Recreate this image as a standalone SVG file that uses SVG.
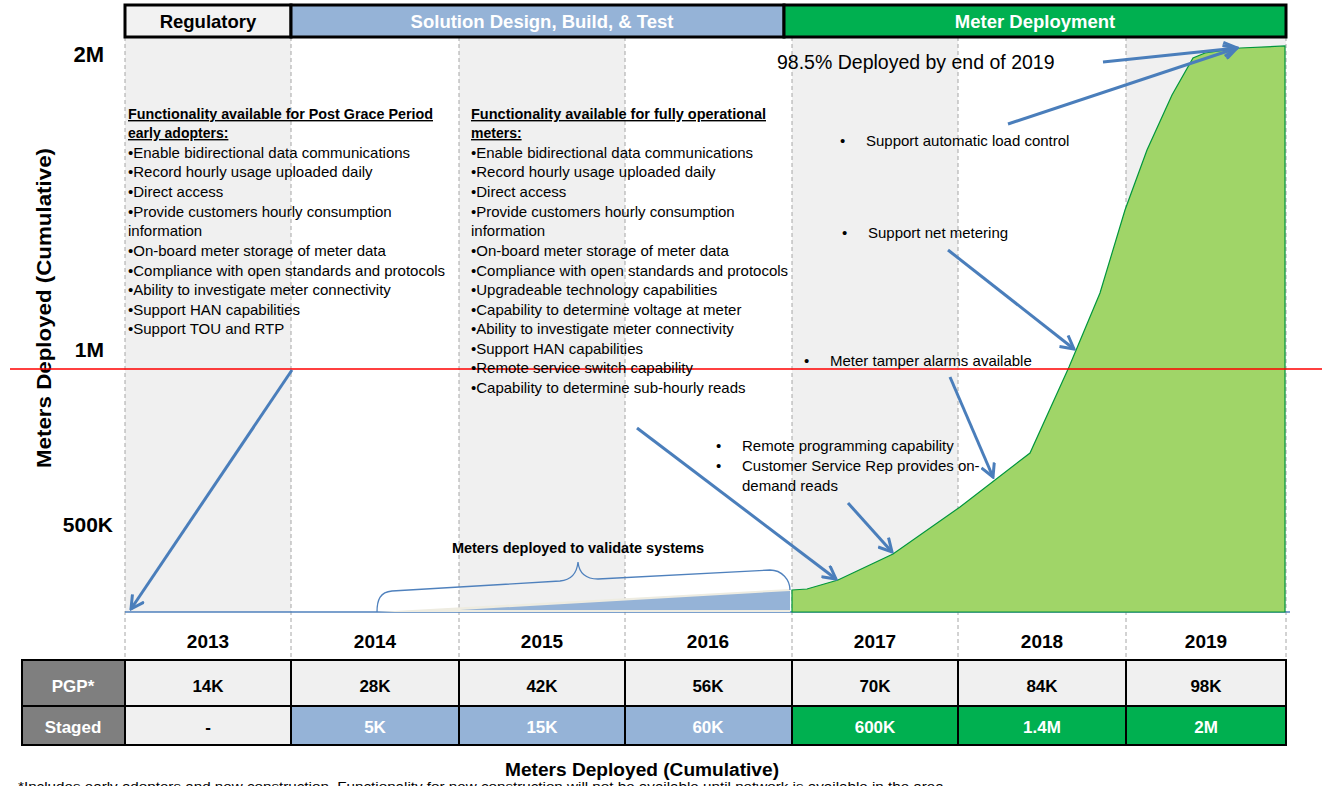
<svg xmlns="http://www.w3.org/2000/svg" width="1322" height="786" viewBox="0 0 1322 786">
<defs>
<style>
.t{font-family:"Liberation Sans",Arial,sans-serif;fill:#000}
.b{font-weight:bold}
.hd{font-family:"Liberation Sans",Arial,sans-serif;font-weight:bold;font-size:18.5px;text-anchor:middle}
.body{font-family:"Liberation Sans",Arial,sans-serif;font-size:15px;fill:#000}
.yr{font-family:"Liberation Sans",Arial,sans-serif;font-weight:bold;font-size:19px;text-anchor:middle;fill:#000}
.cell{font-family:"Liberation Sans",Arial,sans-serif;font-weight:bold;font-size:17px;text-anchor:middle}
.grid{stroke:#a6a6a6;stroke-width:1;stroke-dasharray:4,3}
.shade{fill:#f0f0f0}
.arr{stroke:#4a7ebb;stroke-width:3;fill:none;marker-end:url(#ah)}
.tb{stroke:#000;stroke-width:2}
</style>
<marker id="ah" viewBox="0 0 16 16" refX="14" refY="8" markerWidth="16" markerHeight="16" markerUnits="userSpaceOnUse" orient="auto">
<path d="M1,1 L14,8 L1,15" fill="none" stroke="#4a7ebb" stroke-width="3"/>
</marker>
</defs>
<rect width="1322" height="786" fill="#fff"/>

<!-- column shading -->
<g id="shading">
<rect class="shade" x="125" y="37" width="166" height="575"/>
<rect class="shade" x="459" y="37" width="166" height="575"/>
<rect class="shade" x="792" y="37" width="166" height="575"/>
<rect class="shade" x="1126" y="37" width="160" height="575"/>
</g>
<g id="gridlines">
<line class="grid" x1="125" y1="37" x2="125" y2="660"/>
<line class="grid" x1="291" y1="37" x2="291" y2="660"/>
<line class="grid" x1="459" y1="37" x2="459" y2="660"/>
<line class="grid" x1="625" y1="37" x2="625" y2="660"/>
<line class="grid" x1="792" y1="37" x2="792" y2="660"/>
<line class="grid" x1="958" y1="37" x2="958" y2="660"/>
<line class="grid" x1="1126" y1="37" x2="1126" y2="660"/>
<line class="grid" x1="1286" y1="37" x2="1286" y2="660"/>
</g>

<!-- header -->
<g id="phase-regulatory">
<rect x="125" y="5" width="166" height="32" fill="#f2f2f2" stroke="#000" stroke-width="3"/>
<text class="hd" x="208" y="28" fill="#000">Regulatory</text>
</g>
<g id="phase-solution">
<rect x="291" y="5" width="493" height="32" fill="#95b3d7" stroke="#000" stroke-width="3"/>
<text class="hd" x="542" y="28" fill="#fff">Solution Design, Build, &amp; Test</text>
</g>
<g id="phase-deploy">
<rect x="784" y="5" width="502" height="32" fill="#00b050" stroke="#000" stroke-width="3"/>
<text class="hd" x="1035" y="28" fill="#fff">Meter Deployment</text>
</g>

<!-- axis labels -->
<g id="yaxis">
<text class="t b" x="104" y="62" font-size="22" text-anchor="end">2M</text>
<text class="t b" x="104" y="357" font-size="21" text-anchor="end">1M</text>
<text class="t b" x="113" y="532" font-size="21" text-anchor="end">500K</text>
<text class="t b" font-size="21" text-anchor="middle" textLength="320" lengthAdjust="spacingAndGlyphs" transform="translate(51,308) rotate(-90)">Meters Deployed (Cumulative)</text>
</g>

<!-- chart -->
<g id="chart">
<line x1="125" y1="612" x2="1290" y2="612" stroke="#4f81bd" stroke-width="1.5"/>
<polygon points="377,612 790,589 790,612" fill="#eeece1"/>
<polygon points="460,610 790,591 790,610" fill="#95b3d7"/>
<path d="M792,590 L807,589 L838,580 L893,554 L960,507 L1030,453 L1069,367 L1100,293 L1125,210 L1147,150 L1172,95 L1193,58 L1205,53 L1240,48 L1285,46 L1285,612 L792,612 Z" fill="#a0d568" stroke="#00963c" stroke-width="1.2"/>
<path d="M377,612 C377,600 380,592 392,591 L560,581 C572,580 577,572 578,562 C579,572 584,579 598,579 L770,570 C782,570 790,580 790,590" fill="none" stroke="#4f81bd" stroke-width="1.3"/>
<text class="t b" x="578" y="553" font-size="14.5" text-anchor="middle">Meters deployed to validate systems</text>
</g>

<!-- red reference line -->
<line x1="10" y1="369" x2="1322" y2="369" stroke="#ff0000" stroke-width="1.5"/>

<!-- left text block -->
<g id="block-pgp" class="body">
<text x="128" y="119" font-weight="bold" font-size="14" text-decoration="underline" textLength="305" lengthAdjust="spacingAndGlyphs">Functionality available for Post Grace Period</text>
<text x="128" y="138" font-weight="bold" font-size="14" text-decoration="underline">early adopters:</text>
<text x="128" y="158">•Enable bidirectional data communications</text>
<text x="128" y="177">•Record hourly usage uploaded daily</text>
<text x="128" y="197">•Direct access</text>
<text x="128" y="217">•Provide customers hourly consumption</text>
<text x="128" y="236">information</text>
<text x="128" y="256">•On-board meter storage of meter data</text>
<text x="128" y="276">•Compliance with open standards and protocols</text>
<text x="128" y="295">•Ability to investigate meter connectivity</text>
<text x="128" y="315">•Support HAN capabilities</text>
<text x="128" y="334">•Support TOU and RTP</text>
</g>

<!-- middle text block -->
<g id="block-full" class="body">
<text x="471" y="119" font-weight="bold" font-size="14" text-decoration="underline" textLength="295" lengthAdjust="spacingAndGlyphs">Functionality available for fully operational</text>
<text x="471" y="138" font-weight="bold" font-size="14" text-decoration="underline">meters:</text>
<text x="471" y="158">•Enable bidirectional data communications</text>
<text x="471" y="177">•Record hourly usage uploaded daily</text>
<text x="471" y="197">•Direct access</text>
<text x="471" y="217">•Provide customers hourly consumption</text>
<text x="471" y="236">information</text>
<text x="471" y="256">•On-board meter storage of meter data</text>
<text x="471" y="276">•Compliance with open standards and protocols</text>
<text x="471" y="295">•Upgradeable technology capabilities</text>
<text x="471" y="315">•Capability to determine voltage at meter</text>
<text x="471" y="334">•Ability to investigate meter connectivity</text>
<text x="471" y="354">•Support HAN capabilities</text>
<text x="471" y="373">•Remote service switch capability</text>
<text x="471" y="393">•Capability to determine sub-hourly reads</text>
</g>

<!-- right annotations -->
<g id="annotations" class="body">
<text x="777" y="69" font-size="19.5">98.5% Deployed by end of 2019</text>
<text x="840" y="146">•</text><text x="866" y="146">Support automatic load control</text>
<text x="842" y="238">•</text><text x="868" y="238">Support net metering</text>
<text x="804" y="366">•</text><text x="830" y="366">Meter tamper alarms available</text>
<text x="716" y="451">•</text><text x="742" y="451">Remote programming capability</text>
<text x="716" y="471">•</text><text x="742" y="471">Customer Service Rep provides on-</text>
<text x="742" y="491">demand reads</text>
</g>

<!-- connectors -->
<g id="connectors">
<line class="arr" x1="292" y1="370" x2="131" y2="609"/>
<line class="arr" x1="637" y1="428" x2="836" y2="579"/>
<line class="arr" x1="848" y1="503" x2="892" y2="552"/>
<line class="arr" x1="950" y1="377" x2="993" y2="477"/>
<line class="arr" x1="948" y1="250" x2="1074" y2="349"/>
<line class="arr" x1="1008" y1="124" x2="1237" y2="48"/>
<line class="arr" x1="1103" y1="62" x2="1237" y2="48"/>
</g>

<!-- years -->
<g id="years">
<text class="yr" x="208" y="648">2013</text>
<text class="yr" x="375" y="648">2014</text>
<text class="yr" x="542" y="648">2015</text>
<text class="yr" x="708" y="648">2016</text>
<text class="yr" x="875" y="648">2017</text>
<text class="yr" x="1042" y="648">2018</text>
<text class="yr" x="1206" y="648">2019</text>
</g>

<!-- table -->
<g id="table">
<rect x="22" y="660" width="103" height="85" fill="#7f7f7f"/>
<rect x="125" y="660" width="1161" height="46" fill="#f0f0f0"/>
<rect x="125" y="706" width="166" height="39" fill="#f0f0f0"/>
<rect x="291" y="706" width="501" height="39" fill="#95b3d7"/>
<rect x="792" y="706" width="494" height="39" fill="#00b050"/>
<g class="tb">
<line x1="22" y1="660" x2="1286" y2="660"/>
<line x1="22" y1="706" x2="1286" y2="706"/>
<line x1="22" y1="745" x2="1286" y2="745"/>
<line x1="22" y1="659" x2="22" y2="746"/>
<line x1="125" y1="659" x2="125" y2="746"/>
<line x1="291" y1="659" x2="291" y2="746"/>
<line x1="459" y1="659" x2="459" y2="746"/>
<line x1="625" y1="659" x2="625" y2="746"/>
<line x1="792" y1="659" x2="792" y2="746"/>
<line x1="958" y1="659" x2="958" y2="746"/>
<line x1="1126" y1="659" x2="1126" y2="746"/>
<line x1="1286" y1="659" x2="1286" y2="746"/>
</g>
<text class="cell" x="73" y="692" fill="#fff">PGP*</text>
<text class="cell" x="73" y="733" fill="#fff">Staged</text>
<text class="cell" x="208" y="692" fill="#000">14K</text>
<text class="cell" x="375" y="692" fill="#000">28K</text>
<text class="cell" x="542" y="692" fill="#000">42K</text>
<text class="cell" x="708" y="692" fill="#000">56K</text>
<text class="cell" x="875" y="692" fill="#000">70K</text>
<text class="cell" x="1042" y="692" fill="#000">84K</text>
<text class="cell" x="1206" y="692" fill="#000">98K</text>
<text class="cell" x="208" y="733" fill="#000">-</text>
<text class="cell" x="375" y="733" fill="#fff">5K</text>
<text class="cell" x="542" y="733" fill="#fff">15K</text>
<text class="cell" x="708" y="733" fill="#fff">60K</text>
<text class="cell" x="875" y="733" fill="#fff">600K</text>
<text class="cell" x="1042" y="733" fill="#fff">1.4M</text>
<text class="cell" x="1206" y="733" fill="#fff">2M</text>
</g>

<g id="footer">
<text class="t b" x="642" y="776" font-size="17.5" text-anchor="middle" textLength="274" lengthAdjust="spacingAndGlyphs">Meters Deployed (Cumulative)</text>
<text class="t" x="18" y="791" font-size="13" textLength="930" lengthAdjust="spacingAndGlyphs">*Includes early adopters and new construction. Functionality for new construction will not be available until network is available in the area.</text>
</g>
</svg>
